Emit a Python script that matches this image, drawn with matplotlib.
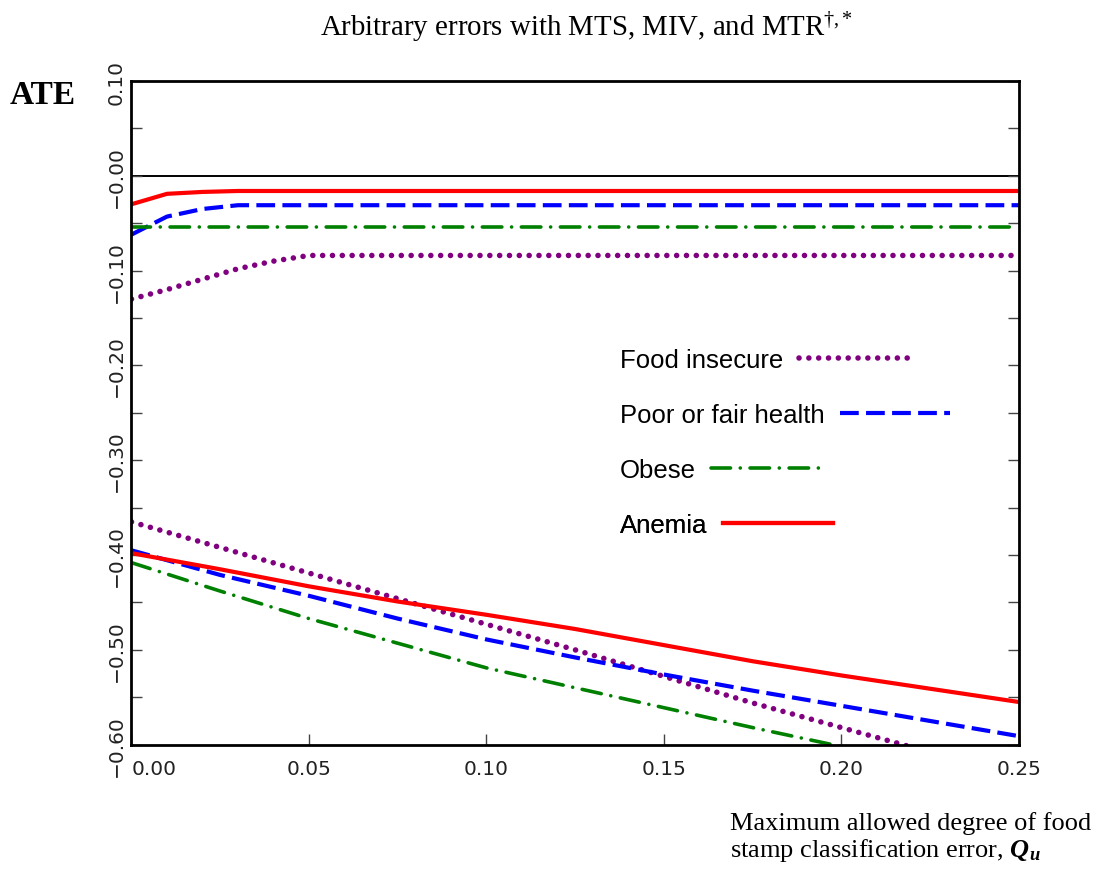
import matplotlib
matplotlib.use('Agg')
import matplotlib.pyplot as plt

plt.rcParams['mathtext.fontset'] = 'custom'
plt.rcParams['mathtext.rm'] = 'Liberation Serif'
plt.rcParams['mathtext.it'] = 'Liberation Serif:italic'
plt.rcParams['mathtext.bf'] = 'Liberation Serif:bold'
plt.rcParams['mathtext.bfit'] = 'Liberation Serif:italic:bold'

# upper bounds (flatten out after Qu ~ 0.05)
q_upper = [0.0, 0.01, 0.02, 0.03, 0.04, 0.05, 0.25]
food_upper = [-0.130, -0.120, -0.109, -0.098, -0.090, -0.084, -0.084]
health_upper = [-0.062, -0.043, -0.035, -0.031, -0.031, -0.031, -0.031]
obese_upper = [-0.054, -0.054, -0.054, -0.054, -0.054, -0.054, -0.054]
anemia_upper = [-0.030, -0.019, -0.017, -0.016, -0.016, -0.016, -0.016]

# lower bounds
q_lower = [0.0, 0.025, 0.05, 0.075, 0.10, 0.125, 0.15, 0.175, 0.20, 0.225, 0.25]
food_lower = [-0.365, -0.392, -0.419, -0.446, -0.473, -0.500, -0.528, -0.556, -0.582, -0.608, -0.634]
health_lower = [-0.395, -0.421, -0.443, -0.467, -0.489, -0.508, -0.526, -0.543, -0.559, -0.575, -0.591]
obese_lower = [-0.408, -0.438, -0.467, -0.493, -0.519, -0.540, -0.561, -0.582, -0.602, -0.622, -0.642]
anemia_lower = [-0.398, -0.415, -0.433, -0.449, -0.463, -0.478, -0.495, -0.512, -0.527, -0.541, -0.555]

labels = ['Food insecure', 'Poor or fair health', 'Obese', 'Anemia']

x_ticks = [0.0, 0.05, 0.10, 0.15, 0.20, 0.25]
x_ticklabels = ['0.00', '0.05', '0.10', '0.15', '0.20', '0.25']
y_ticks = [0.10, 0.0, -0.10, -0.20, -0.30, -0.40, -0.50, -0.60]
y_ticklabels = ['0.10', '\u22120.00', '\u22120.10', '\u22120.20', '\u22120.30',
                '\u22120.40', '\u22120.50', '\u22120.60']
y_minor = [0.05, -0.05, -0.15, -0.25, -0.35, -0.45, -0.55]

fig = plt.figure(figsize=(11.01, 8.78), dpi=100)
ax = fig.add_axes([0.1194, 0.1507, 0.8061, 0.7559])

ax.axhline(0, color='black', lw=1.4, zorder=1)

styles = [
    dict(color='#800080', lw=4.0, ls=(0, (0.01, 1.76)), dash_capstyle='round'),
    dict(color='#0000FF', lw=3.0, ls=(0, (4.5, 1.75)), dash_capstyle='butt'),
    dict(color='#008000', lw=2.6, ls=(0, (5.4, 2.7, 0.01, 2.7)), dash_capstyle='round'),
    dict(color='#FF0000', lw=3.0, ls='-'),
]
uppers = [food_upper, health_upper, obese_upper, anemia_upper]
lowers = [food_lower, health_lower, obese_lower, anemia_lower]

handles = []
for up, lo, st, lab in zip(uppers, lowers, styles, labels):
    h, = ax.plot(q_upper, up, label=lab, **st)
    ax.plot(q_lower, lo, **st)
    handles.append(h)

ax.set_xlim(0, 0.25)
ax.set_ylim(-0.6, 0.1)

ax.set_xticks(x_ticks)
ax.set_xticklabels(x_ticklabels, fontsize=14.5, color='#222222', family='DejaVu Sans')
ax.get_xticklabels()[0].set_ha('left')
ax.set_yticks(y_ticks)
ax.set_yticklabels(y_ticklabels, fontsize=14.5, color='#222222', family='DejaVu Sans',
                   rotation=90, va='center')
ax.set_yticks(y_minor, minor=True)

ax.tick_params(axis='x', which='both', direction='in', length=8, width=1,
               color='#444444', pad=10, top=False)
ax.tick_params(axis='y', which='both', direction='in', length=8, width=1,
               color='#444444', pad=4, right=True)
for s in ax.spines.values():
    s.set_linewidth(2)

# legend: text first, then the line sample, one row per outcome
row_y = [0.580, 0.497, 0.414, 0.331]
for h, yy in zip(handles, row_y):
    leg = ax.legend(handles=[h], loc='center left', bbox_to_anchor=(0.5504, yy),
                    frameon=False, markerfirst=False, handlelength=4.3,
                    handletextpad=0.6, borderpad=0, borderaxespad=0,
                    prop={'family': 'Liberation Sans', 'size': 18.5})
    ax.add_artist(leg)

fig.text(0.533, 1 - 27 / 878, 'Arbitrary errors with MTS, MIV, and MTR$^{\u2020{,}*}$',
         ha='center', va='center', family='Liberation Serif', fontsize=20.8)
fig.text(10 / 1101, 1 - 96 / 878, 'ATE', ha='left', va='center',
         family='Liberation Serif', fontweight='bold', fontsize=24)
fig.text(730 / 1101, 1 - 830 / 878, 'Maximum allowed degree of food',
         ha='left', va='baseline', family='Liberation Serif', fontsize=19)
fig.text(730 / 1101, 1 - 857 / 878, 'stamp classification error, $\\mathbfit{Q_u}$',
         ha='left', va='baseline', family='Liberation Serif', fontsize=19)

fig.savefig('out.png', dpi=100)
